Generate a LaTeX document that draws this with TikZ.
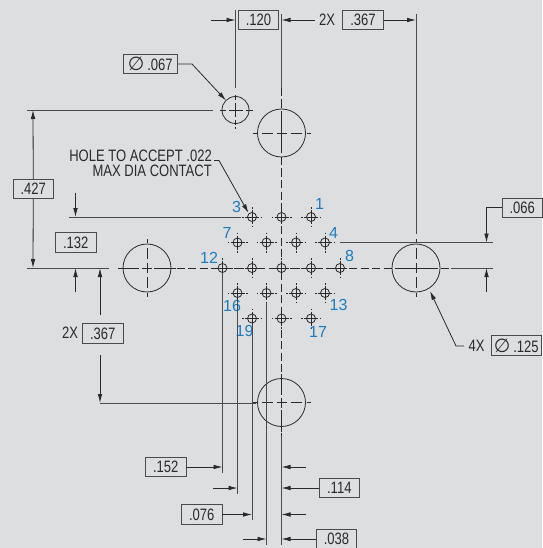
\documentclass[tikz,border=0pt]{standalone}
\usepackage{fontspec}
\setmainfont[FakeStretch=0.79]{Liberation Sans}
\newfontfamily\symfont{DejaVu Sans}
\newfontfamily\tagfont{Liberation Sans}
\usetikzlibrary{arrows.meta}
\definecolor{bg}{HTML}{DCDEE0}
\definecolor{ink}{HTML}{2A2A2C}
\definecolor{num}{HTML}{1B7CC2}
\newcommand{\dia}{{\symfont\fontsize{19}{15}\selectfont ∅}}
\tikzset{
  every node/.style={text=ink,font=\fontsize{16.5}{15}\selectfont},
  line/.style={draw=ink,line width=0.75pt},
  ext/.style={draw=ink!85,line width=0.9pt},
  dim/.style={draw=ink,line width=0.8pt,-{Latex[length=9pt,width=4.6pt]}},
  center/.style={draw=ink,line width=0.85pt,dash pattern=on 8pt off 3.5pt},
  valbox/.style={draw=ink!85,line width=0.9pt,minimum width=40.5pt,minimum height=19.5pt,inner sep=0pt,anchor=center},
  bigh/.style={circle,draw=ink,line width=0.8pt,minimum size=48pt,inner sep=0pt},
  smallh/.style={circle,draw=ink,line width=0.8pt,minimum size=9pt,inner sep=0pt},
  tag/.style={text=num,inner sep=0pt,font=\tagfont\fontsize{16}{15}\selectfont},
  plain/.style={inner sep=0pt},
}
\newcommand{\crosshair}[3]{%
  \draw[line] (#1-7,#2) -- (#1+7,#2) (#1,#2-7) -- (#1,#2+7);
  \draw[line] (#1-10,#2) -- (#1-8.5,#2) (#1+8.5,#2) -- (#1+10,#2)
    (#1,#2-10) -- (#1,#2-8.5) (#1,#2+8.5) -- (#1,#2+10);
  \node[smallh] (#3) at (#1,#2) {};
}
\newcommand{\bigcross}[3]{%
  \draw[line] (#1-29,#2) -- (#1-25,#2) (#1-20,#2) -- (#1-9,#2) (#1-5,#2) -- (#1+5,#2) (#1+9,#2) -- (#1+20,#2) (#1+25,#2) -- (#1+29,#2);
  \draw[line] (#1,#2-29) -- (#1,#2-25) (#1,#2-20) -- (#1,#2-9) (#1,#2-5) -- (#1,#2+5) (#1,#2+9) -- (#1,#2+20) (#1,#2+25) -- (#1,#2+29);
  \node[bigh] (#3) at (#1,#2) {};
}
\begin{document}
\begin{tikzpicture}[x=1pt,y=-1pt]
\useasboundingbox (0,0) rectangle (542,548);
\fill[bg] (0,0) rectangle (542,548);

% centre lines
\coordinate (vT) at (281.5,88); \coordinate (vB) at (281.5,436);
\coordinate (hL) at (119,268); \coordinate (hR) at (449,268);
\draw[center] (vT) -- (vB);
\draw[center] (hL) -- (hR);

% large holes
\bigcross{281.5}{133}{top}
\bigcross{147}{268}{left}
\bigcross{416}{268}{right}
\bigcross{281.5}{402.5}{bottom}

% small mounting hole
\draw[line] (235.5,103) -- (235.5,117) (228.5,110) -- (242.5,110)
  (235.5,95) -- (235.5,100) (235.5,120) -- (235.5,125)
  (220,110) -- (225.5,110) (245.5,110) -- (253,110);
\draw[line] (235.5,127) -- (235.5,129);
\node[circle,draw=ink,line width=0.8pt,minimum size=27pt,inner sep=0pt] (mh) at (235.5,110) {};

% contact holes
\crosshair{311}{217}{c1}
\crosshair{281.5}{217}{c2}
\crosshair{252}{217}{c3}
\crosshair{325}{242.5}{c4}
\crosshair{296}{242.5}{c5}
\crosshair{266.5}{242.5}{c6}
\crosshair{237.5}{242.5}{c7}
\crosshair{340}{268}{c8}
\crosshair{311}{268}{c9}
\crosshair{281.5}{268}{c10}
\crosshair{252}{268}{c11}
\crosshair{222.5}{268}{c12}
\crosshair{325}{293}{c13}
\crosshair{296}{293}{c14}
\crosshair{266.5}{293}{c15}
\crosshair{237.5}{293}{c16}
\crosshair{311}{318.5}{c17}
\crosshair{281.5}{318.5}{c18}
\crosshair{252}{318.5}{c19}

% pin numbers
\node[tag] (n1) at (319.5,204) {1};
\node[tag] (n3) at (236.5,207) {3};
\node[tag] (n4) at (333.5,232.5) {4};
\node[tag] (n7) at (227,233) {7};
\node[tag] (n8) at (349.5,255.5) {8};
\node[tag] (n12) at (209,258) {12};
\node[tag] (n13) at (338.5,304.5) {13};
\node[tag] (n16) at (232,306) {16};
\node[tag] (n17) at (318,332) {17};
\node[tag] (n19) at (244.5,330.5) {19};

% value boxes
\node[valbox] (b120) at (258.5,20) {.120};
\node[valbox] (b367t) at (363,20) {.367};
\node[valbox,minimum width=53.5pt] (b067) at (150.3,64) {\dia\,.067};
\node[valbox] (b427) at (33.3,189) {.427};
\node[valbox] (b132) at (75.7,242.5) {.132};
\node[valbox] (b367l) at (102.7,333.5) {.367};
\node[valbox] (b066) at (522.3,207.7) {.066};
\node[valbox,minimum width=49.5pt] (b125) at (516.3,345.5) {\dia\,.125};
\node[valbox] (b152) at (165.7,467) {.152};
\node[valbox] (b114) at (339.3,488) {.114};
\node[valbox] (b076) at (201.7,514.5) {.076};
\node[valbox] (b038) at (336.5,539) {.038};
\node[plain] (x2t) at (327,20) {2X};
\node[plain] (x2l) at (70,333) {2X};
\node[plain] (x4) at (476.5,345.5) {4X};
\node[plain,align=right,anchor=east,font=\fontsize{16.5}{15}\selectfont] (hole) at (212,163) {HOLE TO ACCEPT .022\\MAX DIA CONTACT};

% extension lines
\coordinate (e1a) at (235.5,10); \coordinate (e1b) at (235.5,88);
\coordinate (e2a) at (281.5,14); \coordinate (e2b) at (281.5,88);
\coordinate (e3a) at (416,14); \coordinate (e3b) at (416,234);
\coordinate (e4a) at (27,110); \coordinate (e4b) at (213,110);
\coordinate (e5a) at (27,268); \coordinate (e5b) at (109,268);
\coordinate (e6a) at (69,217); \coordinate (e6b) at (241,217);
\coordinate (e7a) at (340,242.5); \coordinate (e7b) at (493,242.5);
\coordinate (e8a) at (451,268); \coordinate (e8b) at (493,268);
\coordinate (e9a) at (100,403); \coordinate (e9b) at (256,403);
\coordinate (f1a) at (222.5,273); \coordinate (f1b) at (222.5,473);
\coordinate (f2a) at (237.5,300); \coordinate (f2b) at (237.5,494);
\coordinate (f3a) at (252,325); \coordinate (f3b) at (252,520);
\coordinate (f4a) at (266.5,303); \coordinate (f4b) at (266.5,545);
\coordinate (f5a) at (281.5,436); \coordinate (f5b) at (281.5,545);
\foreach \a/\b in {e1a/e1b,e2a/e2b,e3a/e3b,e4a/e4b,e5a/e5b,e6a/e6b,e7a/e7b,e8a/e8b,e9a/e9b,f1a/f1b,f2a/f2b,f3a/f3b,f4a/f4b,f5a/f5b}
  \draw[ext] (\a) -- (\b);

% dimension arrows, top
\coordinate (a1) at (211,20); \coordinate (a1e) at (235.5,20);
\draw[dim] (a1) -- (a1e);
\coordinate (a2) at (315,20); \coordinate (a2e) at (281.5,20);
\draw[dim] (a2) -- (a2e);
\coordinate (a3e) at (416,20);
\draw[dim] (b367t) -- (a3e);

% .427
\coordinate (a4a) at (33,110); \coordinate (a4b) at (33,268);
\draw[dim] (b427) -- (a4a);
\draw[dim] (b427) -- (a4b);

% .132
\coordinate (a5a) at (75.5,193); \coordinate (a5b) at (75.5,217);
\draw[dim] (a5a) -- (a5b);
\coordinate (a6a) at (75.5,292); \coordinate (a6b) at (75.5,268);
\draw[dim] (a6a) -- (a6b);

% left .367
\coordinate (a7a) at (100,315); \coordinate (a7b) at (100,268);
\draw[dim] (a7a) -- (a7b);
\coordinate (a8a) at (100,355); \coordinate (a8b) at (100,403);
\draw[dim] (a8a) -- (a8b);

% .066
\coordinate (a9) at (486.5,207.7); \coordinate (a9b) at (486.5,242.5);
\draw[dim] (b066.west) -- (a9) -- (a9b);
\coordinate (a10a) at (486.5,292); \coordinate (a10b) at (486.5,268);
\draw[dim] (a10a) -- (a10b);

% bottom
\coordinate (b1) at (222.5,467); \draw[dim] (b152) -- (b1);
\coordinate (b2a) at (213,488); \coordinate (b2b) at (237.5,488); \draw[dim] (b2a) -- (b2b);
\coordinate (b3) at (252,514.5); \draw[dim] (b076) -- (b3);
\coordinate (b4a) at (243,539); \coordinate (b4b) at (266.5,539); \draw[dim] (b4a) -- (b4b);
\coordinate (b5a) at (306,467); \coordinate (b5b) at (281.5,467); \draw[dim] (b5a) -- (b5b);
\coordinate (b6b) at (281.5,488); \draw[dim] (b114) -- (b6b);
\coordinate (b7a) at (306,514.5); \coordinate (b7b) at (281.5,514.5); \draw[dim] (b7a) -- (b7b);
\coordinate (b8b) at (281.5,539); \draw[dim] (b038) -- (b8b);

% leaders
\coordinate (l1) at (192,64); \coordinate (l1e) at (226,100.5);
\draw[dim] (b067.east) -- (l1) -- (l1e);
\coordinate (l2a) at (214,160.5); \coordinate (l2) at (219,160.5); \coordinate (l2e) at (248.5,213);
\draw[dim] (l2a) -- (l2) -- (l2e);
\coordinate (l3a) at (464,346); \coordinate (l3) at (456,346); \coordinate (l3e) at (430,291);
\draw[dim] (l3a) -- (l3) -- (l3e);
\end{tikzpicture}
\end{document}
